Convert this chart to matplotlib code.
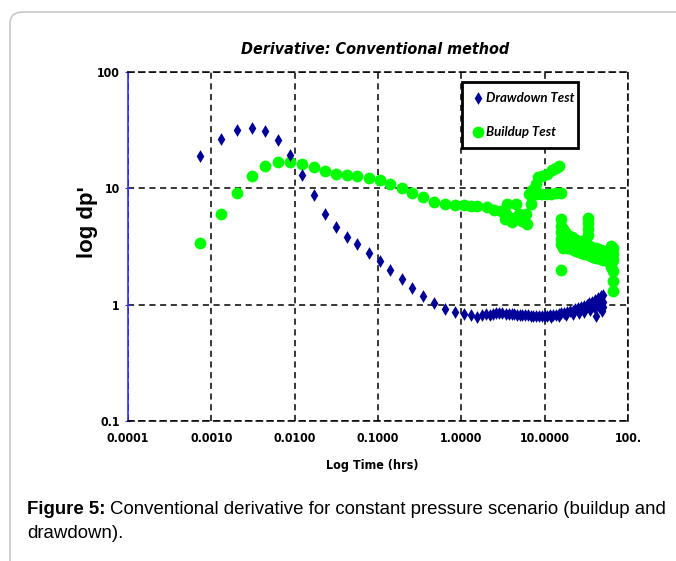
import os
import numpy as np
import matplotlib
matplotlib.use('Agg')
import matplotlib.pyplot as plt
from matplotlib import font_manager
from matplotlib.font_manager import FontProperties
from matplotlib.patches import FancyBboxPatch

names = {f.name for f in font_manager.fontManager.ttflist}
files = [f.fname for f in font_manager.fontManager.ttflist]
LEG_FONT = 'Lato' if 'Lato' in names else 'DejaVu Sans'


def narrow_font(style, size):
    # look for a condensed face; fall back to plain Liberation Sans
    wanted = {'bold': ['LiberationSansNarrow-Bold.', 'DejaVuSansCondensed-Bold.'],
              'bolditalic': ['LiberationSansNarrow-BoldItalic', 'DejaVuSansCondensed-BoldOblique']}[style]
    for w in wanted:
        for f in files:
            if os.path.basename(f).startswith(w):
                return FontProperties(fname=f, size=size)
    return FontProperties(family='Liberation Sans', weight='bold',
                          style='italic' if style == 'bolditalic' else 'normal', size=size)


# drawdown test (hrs, dp')
dd_t = [0.00073, 0.0013, 0.00206, 0.00308, 0.00446, 0.00638, 0.00887, 0.0121,
        0.0169, 0.0231, 0.0313, 0.0423, 0.0564, 0.0776, 0.105, 0.141, 0.193,
        0.259, 0.348, 0.471, 0.638, 0.847, 1.08, 1.32, 1.54, 1.77,
        1.98, 2.2, 2.4, 2.6, 2.85, 3.1, 3.4, 3.7, 4.0, 4.3, 4.6, 5.0, 5.4, 5.8,
        6.3, 6.8, 7.3, 7.9, 8.5, 9.2, 10.0, 10.8, 11.7, 12.6, 13.6, 14.7, 15.9,
        17.2, 18.6, 20.1, 21.7, 23.4, 25.3, 27.3, 29.5, 31.9, 34.4, 37.2, 40.2,
        43.4, 46.9, 50.6,
        12.0, 15.0, 18.0, 22.0, 26.0, 30.0, 35.0, 40.0, 45.0, 48.0, 50.0, 50.0,
        41.0, 49.0, 47.0, 44.0, 38.0]
dd_dp = [18.9, 26.6, 31.8, 33.3, 31.0, 25.8, 19.2, 13.1,
         8.7, 6.05, 4.63, 3.85, 3.31, 2.79, 2.39, 2.0, 1.67,
         1.40, 1.19, 1.03, 0.92, 0.86, 0.825, 0.81, 0.79, 0.82,
         0.83, 0.82, 0.83, 0.84, 0.84, 0.84, 0.835, 0.83, 0.83, 0.825, 0.82, 0.82, 0.815, 0.81,
         0.81, 0.805, 0.80, 0.80, 0.80, 0.80, 0.80, 0.805, 0.81, 0.815, 0.82, 0.83, 0.84,
         0.85, 0.86, 0.875, 0.89, 0.91, 0.93, 0.95, 0.97, 1.0, 1.03, 1.06, 1.09,
         1.13, 1.18, 1.22,
         0.79, 0.80, 0.81, 0.83, 0.85, 0.87, 0.90, 0.93, 0.96, 1.0, 1.05, 0.95,
         0.80, 0.88, 1.10, 1.02, 0.97]

# buildup test (hrs, dp')
bu_t = [0.00073, 0.0013, 0.00206, 0.00308, 0.00446, 0.00638, 0.00887, 0.0121,
        0.0169, 0.0231, 0.0313, 0.0423, 0.0564, 0.0776, 0.105, 0.141, 0.193,
        0.259, 0.348, 0.471, 0.638, 0.847, 1.08, 1.32, 1.54, 2.01, 2.48, 2.99, 3.43,
        # scatter around 3-7 hrs
        3.58, 4.52, 3.37, 4.11, 4.95, 5.96, 6.22, 5.68, 6.95, 3.9, 4.7, 5.3,
        # rising branch
        6.52, 7.14, 7.84, 8.42, 9.4, 10.8, 12.4, 13.8, 14.9,
        # flat branch
        6.82, 7.84, 9.0, 10.3, 11.9, 13.6, 15.6,
        # late cluster
        15.6, 15.6, 15.6, 15.6, 15.6, 15.6,
        16.5, 16.5, 16.5, 16.5, 17.5, 17.5, 17.5, 18.5, 18.5, 18.5,
        19.5, 19.5, 19.5, 21, 21, 21, 22.5, 22.5, 22.5, 24, 24, 24,
        26, 26, 26, 28, 28, 28, 33, 33, 33, 33, 30, 30, 30, 32, 32, 32,
        34, 34, 34, 36, 36, 36, 38, 38, 38, 41, 41, 41, 44, 44, 44,
        47, 47, 47, 50, 50, 50, 54, 54, 54, 58, 58, 58,
        63, 63, 63, 63, 63, 66, 66, 66, 66, 66, 66]
bu_dp = [3.38, 6.0, 9.1, 12.7, 15.6, 16.9, 16.9, 16.3,
         15.3, 14.2, 13.3, 13.0, 12.7, 12.2, 11.7, 11.0, 10.1,
         9.2, 8.4, 7.6, 7.3, 7.2, 7.18, 7.09, 7.0, 6.86, 6.55, 6.37, 6.05,
         7.28, 7.38, 5.48, 5.12, 5.97, 6.05, 4.96, 5.66, 7.38, 5.6, 5.4, 5.2,
         9.0, 9.74, 10.97, 12.4, 12.7, 13.4, 14.3, 15.1, 15.5,
         8.71, 9.0, 9.0, 9.0, 9.0, 9.12, 9.18,
         5.4, 4.7, 4.2, 3.7, 3.3, 2.0,
         4.5, 3.9, 3.4, 3.1, 4.2, 3.6, 3.2, 4.0, 3.5, 3.1,
         3.9, 3.4, 3.05, 3.8, 3.35, 3.0, 3.7, 3.3, 2.95, 3.6, 3.25, 2.9,
         3.55, 3.2, 2.85, 3.5, 3.1, 2.8, 5.6, 5.0, 4.5, 4.0, 3.4, 3.05, 2.75, 3.3, 3.0, 2.7,
         3.2, 2.95, 2.65, 3.15, 2.9, 2.6, 3.1, 2.85, 2.55, 3.05, 2.8, 2.5, 3.0, 2.75, 2.5,
         2.95, 2.7, 2.45, 2.9, 2.65, 2.4, 2.85, 2.6, 2.4, 2.8, 2.55, 2.35,
         3.2, 2.8, 2.5, 2.3, 2.1, 3.1, 2.7, 2.4, 1.95, 1.6, 1.32]

x_ticks = [0.0001, 0.001, 0.01, 0.1, 1, 10, 100]
x_labels = ['0.0001', '0.0010', '0.0100', '0.1000', '1.0000', '10.0000', '100.']
y_ticks = [0.1, 1, 10, 100]
y_labels = ['0.1', '1', '10', '100']

W, H = 676, 561
fig = plt.figure(figsize=(W / 100, H / 100), dpi=100)

# page frame
frame = FancyBboxPatch((10 / W, -0.5), 1.2, 1 - 12 / H + 0.5, transform=fig.transFigure,
                       boxstyle='round,pad=0,rounding_size=0.02',
                       fc='none', ec='#c8c8c8', lw=1.2)
fig.patches.append(frame)

ax = fig.add_axes([128 / W, 1 - 421 / H, 500 / W, 349 / H])
ax.set_xscale('log')
ax.set_yscale('log')
ax.set_xlim(1e-4, 100)
ax.set_ylim(0.1, 100)

ax.scatter(bu_t, bu_dp, s=72, marker='o', color='#00ff00', lw=0, zorder=3,
           label='Buildup Test')
ax.scatter(dd_t, dd_dp, s=42, marker='d', color='#000099', lw=0, zorder=4,
           label='Drawdown Test')

dash = (0, (4, 3))
ax.grid(True, which='major', color='black', linestyle=dash, linewidth=1.1)
ax.minorticks_off()
for s in ['top', 'right', 'bottom']:
    ax.spines[s].set_linestyle(dash)
    ax.spines[s].set_color('black')
    ax.spines[s].set_linewidth(1.1)
ax.spines['left'].set_color('#3030ff')
ax.spines['left'].set_linewidth(1.2)
ax.axvline(1e-4, color='black', linestyle=dash, lw=1.1, zorder=2)

ax.set_xticks(x_ticks)
ax.set_xticklabels(x_labels)
ax.set_yticks(y_ticks)
ax.set_yticklabels(y_labels)
ax.tick_params(axis='x', length=0, pad=8)
ax.tick_params(axis='y', length=4, direction='inout', color='#3030ff', pad=4)
tick_fp = narrow_font('bold', 8.8)
for lab in ax.get_xticklabels() + ax.get_yticklabels():
    lab.set_fontproperties(tick_fp)

fig.text(375 / W, 1 - 50 / H, 'Derivative: Conventional method', ha='center', va='center',
         fontproperties=narrow_font('bolditalic', 11.5))
fig.text(372 / W, 1 - 465 / H, 'Log Time (hrs)', ha='center', va='center',
         fontproperties=narrow_font('bold', 9))
fig.text(88 / W, 1 - 222 / H, "log dp'", ha='center', va='center', rotation=90,
         fontfamily='Liberation Sans', fontweight='bold', fontsize=16)

h, l = ax.get_legend_handles_labels()
leg = fig.legend(h[::-1], l[::-1], loc='upper left',
                 bbox_to_anchor=(462 / W, 1 - 149 / H, 116 / W, 67 / H),
                 bbox_transform=fig.transFigure, mode='expand',
                 fancybox=False, edgecolor='black', framealpha=1,
                 handletextpad=0.1, handlelength=1.0, labelspacing=1.65,
                 borderpad=0.75, borderaxespad=0,
                 prop={'family': LEG_FONT, 'weight': 'bold', 'style': 'italic', 'size': 9.5})
leg.get_frame().set_linewidth(2)

# caption
cap_y = 1 - 510 / H
t1 = fig.text(27 / W, cap_y, 'Figure 5:', fontfamily='Liberation Sans', fontweight='bold',
              fontsize=13.4, va='center')
fig.canvas.draw()
bb = t1.get_window_extent()
fig.text((bb.x1 + 4) / W, cap_y,
         'Conventional derivative for constant pressure scenario (buildup and',
         fontfamily='Liberation Sans', fontsize=13.4, va='center')
fig.text(27 / W, 1 - 533 / H, 'drawdown).', fontfamily='Liberation Sans', fontsize=13.4,
         va='center')

fig.savefig('out.png', dpi=100)
